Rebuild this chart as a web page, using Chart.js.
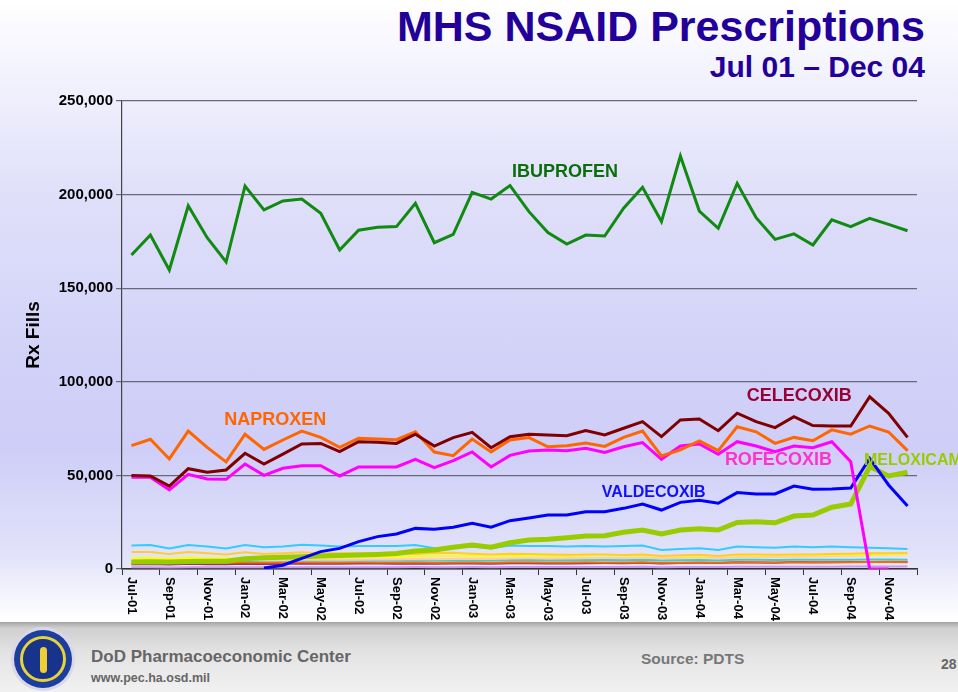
<!DOCTYPE html>
<html>
<head>
<meta charset="utf-8">
<script src="https://cdn.jsdelivr.net/npm/chart.js@4.4.1/dist/chart.umd.min.js"></script>
<style>
  html, body { margin: 0; padding: 0; }
  body {
    width: 958px; height: 692px; overflow: hidden; position: relative;
    font-family: "Liberation Sans", Arial, sans-serif;
    background: linear-gradient(to bottom, #ffffff 0px, #f3f3fd 70px, #e0e0fa 190px, #d0d0f8 380px, #cecef8 450px, #e2e2fa 555px, #f4f4fd 595px, #ffffff 620px);
  }
  #title { position: absolute; right: 33px; top: 2px; font-size: 43px; font-weight: bold; color: #220099; }
  #subtitle { position: absolute; right: 33px; top: 50px; font-size: 30px; font-weight: bold; color: #220099; }
  #stage { position: absolute; left: 0; top: 0; }
  #footer {
    position: absolute; left: 0; top: 622px; width: 958px; height: 70px;
    background: linear-gradient(to bottom, #a4a4a4 0px, #cfcfcf 6px, #e3e3e3 30px, #f1f1f1 70px);
  }
  #logo { position: absolute; left: 11px; top: 627px; width: 64px; height: 64px; border-radius: 50%; background: #d8d8e8; }
  #logo .a { position: absolute; left: 3px; top: 3px; width: 58px; height: 58px; border-radius: 50%; background: #1c3f9e; }
  #logo .b { position: absolute; left: 9px; top: 9px; width: 40px; height: 40px; border-radius: 50%; border: 3px solid #e8d23a; background: #17338c; }
  #logo .c { position: absolute; left: 17px; top: 8px; width: 7px; height: 26px; border-radius: 4px; background: #f0d030; }
  .ft { position: absolute; font-weight: bold; color: #666; white-space: nowrap; }
</style>
</head>
<body>
<div id="title">MHS NSAID Prescriptions</div>
<div id="subtitle">Jul 01 &ndash; Dec 04</div>
<canvas id="stage" width="958" height="640"></canvas>
<div id="footer"></div>
<div id="logo"><div class="a"></div><div class="b"><div class="c"></div></div></div>
<div class="ft" style="left:91px;top:647px;font-size:17px;">DoD Pharmacoeconomic Center</div>
<div class="ft" style="left:91px;top:671px;font-size:12.5px;">www.pec.ha.osd.mil</div>
<div class="ft" style="left:641px;top:650px;font-size:15.5px;color:#777;">Source: PDTS</div>
<div class="ft" style="left:941px;top:656px;font-size:14px;">28</div>
<script>
// months Jul-01 .. Dec-04
var months = ['Jul-01','Aug-01','Sep-01','Oct-01','Nov-01','Dec-01',
  'Jan-02','Feb-02','Mar-02','Apr-02','May-02','Jun-02','Jul-02','Aug-02','Sep-02','Oct-02','Nov-02','Dec-02',
  'Jan-03','Feb-03','Mar-03','Apr-03','May-03','Jun-03','Jul-03','Aug-03','Sep-03','Oct-03','Nov-03','Dec-03',
  'Jan-04','Feb-04','Mar-04','Apr-04','May-04','Jun-04','Jul-04','Aug-04','Sep-04','Oct-04','Nov-04','Dec-04'];

var yTicks = [0, 50000, 100000, 150000, 200000, 250000];

var ibuprofen = [167700,178400,159700,194000,177000,164000,204600,191800,196600,197600,190000,170400,181000,182500,182900,195300,174300,178800,201200,197600,204800,
  190900,179700,173600,178400,177900,192700,203900,185600,220600,191200,182000,206000,187700,176100,179000,173100,186500,182900,187300,184100,180700];
var naproxen = [65900,69300,58800,73700,65000,57200,72000,63900,68900,73700,70300,65000,69800,69400,69100,73300,62500,60500,69400,62500,68900,70200,
  65300,65900,67300,65500,70300,73700,60400,63600,68400,63200,76000,73300,67100,70300,68500,74300,72000,76400,73200,63200];
var celecoxib = [50000,49700,44300,53600,51700,52900,61800,56100,61400,66800,67100,62700,68000,67700,67100,72000,65700,70200,73000,64800,70700,
  72000,71600,71200,73900,71600,75200,78700,70700,79600,80100,73900,83200,78700,75500,81400,76600,76400,76400,92000,83200,70300];
var rofecoxib = [49000,49000,42200,50600,48100,47900,56100,50000,53800,55200,55200,49700,54500,54500,54500,58600,54100,57900,62500,54500,60700,63000,
  63600,63200,64500,62300,65300,67500,58600,65700,66800,61300,68000,65700,62700,65700,64800,68000,57300,0,0,null];
var valdecoxib = [null,null,null,null,null,null,null,500,2000,5700,9300,11000,14600,17300,18700,21700,21200,22300,24400,22300,25800,
  27300,28800,28800,30600,30600,32400,34700,31500,35600,36700,35100,40800,40100,40100,44300,42600,42700,43300,59100,44900,33700];
var meloxicam = [3800,3900,3700,4000,4100,4200,5500,6000,6300,6600,7000,7200,7500,7800,8300,9600,10100,11600,12800,11600,14000,
  15500,15900,16700,17600,17800,19600,20800,18700,20800,21500,20800,24900,25300,24700,28300,28800,33000,34700,54700,49700,51700];

// smaller, unlabelled NSAIDs along the bottom
var otherA = [12600,12800,11000,12800,12000,11000,12800,11600,12000,13000,12500,12000,12300,12300,12300,12800,11100,11600,12000,11100,12500,
  12300,12300,12000,12300,12000,12300,12500,10100,10700,11100,10100,12000,11600,11400,12000,11600,12000,11600,11400,11100,10700];
var otherB = [9100,9100,8000,9100,8400,7800,8900,8000,8400,8900,8400,8400,8400,8400,8000,8000,8500,8700,8200,7800,8200,
  8000,7800,7600,7800,7800,7500,7800,7000,7400,7600,7000,7800,7800,7600,7800,7800,8000,8200,8600,8400,8500];
var otherC = [5800,5900,5500,6000,5700,5600,6000,5800,6000,6200,6000,6100,6300,6500,6600,6800,7000,6900,7000,6800,7100,
  7200,7000,7000,7200,7300,7200,7400,6800,7000,7100,6900,7400,7300,7300,7500,7400,7500,7600,7800,7900,8000];
var otherD = [4600,4700,4400,4800,4600,4500,4900,4700,4800,5000,4900,4900,5000,5100,5100,5300,5200,5300,5500,5300,5600,
  5700,5600,5700,5800,5900,5900,6100,5800,6000,6100,6000,6300,6400,6400,6600,6700,6900,7100,7500,7800,8000];
var otherE = [4300,4400,4100,4500,4300,4200,4600,4400,4500,4600,4500,4500,4600,4600,4500,4700,4500,4600,4700,4500,4800,
  4800,4700,4700,4800,4800,4700,4900,4500,4700,4800,4600,4900,4900,4800,5000,4900,5000,5000,5100,5100,5000];
var otherF = [3400,3500,3200,3600,3400,3300,3600,3500,3500,3600,3500,3500,3600,3500,3500,3600,3400,3500,3600,3400,3600,
  3600,3500,3500,3600,3500,3500,3600,3300,3400,3500,3400,3600,3600,3500,3600,3500,3600,3600,3700,3700,3600];
var otherG = [2600,2700,2400,2800,2600,2500,2800,2700,2700,2900,2800,2800,2900,2900,2800,3000,2800,2900,3000,2800,3100,
  3100,3000,3000,3100,3200,3100,3300,3000,3200,3300,3200,3600,3500,3400,3700,3600,3600,3700,3800,3900,3800];
var otherH = [900,900,800,1000,900,900,1000,900,1000,1000,1000,1000,1000,1000,1000,1100,1000,1000,1100,1000,1100,
  1100,1100,1100,1100,1100,1100,1200,1000,1100,1100,1100,1200,1200,1200,1200,1200,1200,1300,1300,1300,1300];

// in-chart names: [text, month index, value at baseline, colour, font size]
var seriesNames = [
  ['IBUPROFEN', 20.1, 209400, '#0b6e0b', 18],
  ['NAPROXEN', 4.9, 76900, '#ff6600', 18],
  ['CELECOXIB', 32.5, 89700, '#990033', 18],
  ['ROFECOXIB', 31.35, 55600, '#ff33cc', 18],
  ['MELOXICAM', 38.7, 55600, '#99cc00', 16],
  ['VALDECOXIB', 24.85, 38500, '#1010ff', 16]
];

function line(label, data, color, width) {
  return { label: label, data: data, borderColor: color, backgroundColor: color,
    borderWidth: width, pointRadius: 0, tension: 0, fill: false, spanGaps: false };
}

var FONT = '"Liberation Sans", Arial, sans-serif';

var namesPlugin = {
  id: 'names',
  afterDraw: function(chart) {
    var ctx = chart.ctx, xs = chart.scales.x, ys = chart.scales.y;
    ctx.save();
    // month labels, rotated clockwise, every other month
    ctx.font = 'bold 13px ' + FONT;
    ctx.fillStyle = '#000';
    ctx.textAlign = 'left';
    ctx.textBaseline = 'middle';
    months.forEach(function(m, i) {
      if (i % 2) return;
      ctx.save();
      ctx.translate(xs.getPixelForValue(i), ys.bottom + 8);
      ctx.rotate(Math.PI / 2);
      ctx.fillText(m, 0, 0);
      ctx.restore();
    });
    // series names
    ctx.textBaseline = 'alphabetic';
    seriesNames.forEach(function(n) {
      ctx.font = 'bold ' + n[4] + 'px ' + FONT;
      ctx.fillStyle = n[3];
      ctx.fillText(n[0], xs.getPixelForValue(n[1]), ys.getPixelForValue(n[2]));
    });
    ctx.restore();
  }
};

var canvas = document.getElementById('stage');
var chart = new Chart(canvas, {
  type: 'line',
  data: {
    labels: months,
    datasets: [
      line('Ibuprofen', ibuprofen, '#108a10', 3),
      line('Celecoxib', celecoxib, '#800000', 3),
      line('Naproxen', naproxen, '#ff6600', 3),
      line('Rofecoxib', rofecoxib, '#ff00ff', 3),
      line('Valdecoxib', valdecoxib, '#0000ff', 3),
      line('Meloxicam', meloxicam, '#99cc00', 5),
      line('Other A', otherA, '#33ccff', 2),
      line('Other B', otherB, '#ffcc33', 2),
      line('Other C', otherC, '#ffff00', 2),
      line('Other D', otherD, '#ffccaa', 2),
      line('Other E', otherE, '#44cccc', 2),
      line('Other F', otherF, '#ff6a00', 2),
      line('Other G', otherG, '#993366', 2),
      line('Other H', otherH, '#cc99ee', 2)
    ]
  },
  options: {
    responsive: false,
    animation: false,
    devicePixelRatio: 1,
    layout: { padding: { left: 0, right: 41, top: 101, bottom: 0 } },
    plugins: { legend: { display: false }, tooltip: { enabled: false } },
    scales: {
      x: {
        offset: true,
        afterFit: function(s) { s.height = 71; },
        ticks: { display: false, autoSkip: false },
        grid: {
          offset: true,
          drawOnChartArea: false,
          drawTicks: true,
          tickLength: 6,
          color: function(c) { return (c.index === undefined || c.index % 2 === 0) ? '#333' : 'rgba(0,0,0,0)'; }
        },
        border: { display: true, color: '#333', width: 1.5 }
      },
      y: {
        min: 0,
        max: 250000,
        afterFit: function(s) { s.width = 122; },
        afterBuildTicks: function(s) { s.ticks = yTicks.map(function(v) { return { value: v }; }); },
        ticks: {
          padding: 3,
          color: '#000',
          font: { family: FONT, size: 15, weight: 'bold' },
          callback: function(v) { return v.toLocaleString('en-US'); }
        },
        grid: { color: '#686878', lineWidth: 1.2, tickLength: 6 },
        border: { display: true, color: '#444', width: 1.2 },
        title: {
          display: true,
          text: 'Rx Fills',
          color: '#000',
          font: { family: FONT, size: 19, weight: 'bold' },
          padding: { top: 22, bottom: 0 }
        }
      }
    }
  },
  plugins: [namesPlugin]
});
</script>
</body>
</html>
